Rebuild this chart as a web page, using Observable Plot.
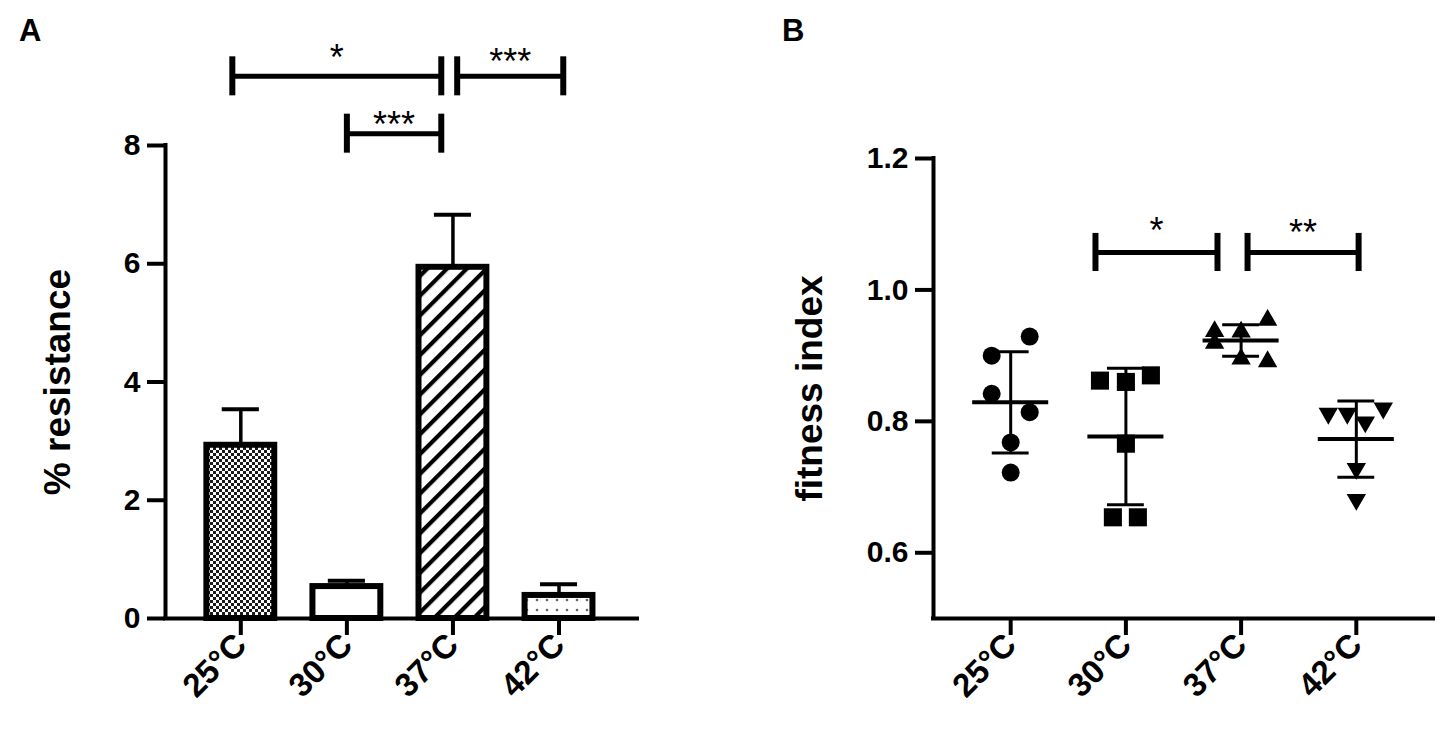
<!DOCTYPE html>
<html><head><meta charset="utf-8">
<script src="https://cdn.jsdelivr.net/npm/d3@7"></script>
<script src="https://cdn.jsdelivr.net/npm/@observablehq/plot@0.6"></script>
<style>
body{margin:0;background:#fff;}
#wrap{position:relative;width:1442px;height:733px;font-family:"Liberation Sans",Arial,sans-serif;overflow:hidden;}
.panel{position:absolute;top:0;}
.letter{position:absolute;font-weight:bold;font-size:31px;line-height:1;}
</style></head>
<body><div id="wrap">
<div class="letter" style="left:19px;top:15px">A</div>
<div class="letter" style="left:782px;top:15px">B</div>
<div id="pa" class="panel" style="left:0"></div>
<div id="pb" class="panel" style="left:700px"></div>
</div>
<script>
// ---------- data ----------
const categories = ["25°C", "30°C", "37°C", "42°C"];

// Panel A: % resistance (mean + SEM)
const resistanceMean = [2.93, 0.54, 5.94, 0.39];
const resistanceErr = [0.61, 0.10, 0.89, 0.19];
const resistanceTicks = [0, 2, 4, 6, 8];
// significance brackets (category-position units, value units)
const bracketFromA = [-0.08, 1.0, 2.04];
const bracketToA = [1.89, 1.89, 3.04];
const bracketYA = [9.17, 8.20, 9.17];
const bracketLabelYA = [9.61, 8.49, 9.54];
const bracketLabelA = ["*", "***", "***"];

// Panel B: fitness index (individual points, mean ± SD)
const fit25 = [0.900, 0.929, 0.842, 0.814, 0.768, 0.722];
const fit30 = [0.862, 0.860, 0.870, 0.766, 0.654, 0.654];
const fit37 = [0.937, 0.919, 0.936, 0.954, 0.895, 0.891];
const fit42 = [0.812, 0.812, 0.799, 0.820, 0.728, 0.681];
const jitter25 = [-0.165, 0.165, -0.165, 0.165, 0, 0];
const jitter30 = [-0.225, 0, 0.217, 0, -0.113, 0.104];
const jitter37 = [-0.23, -0.23, 0, 0.23, 0, 0.23];
const jitter42 = [-0.243, -0.078, 0.078, 0.234, 0, 0];
const fitMean = [0.829, 0.777, 0.923, 0.773];
const fitSD = [0.077, 0.104, 0.024, 0.058];
const fitTicks = [0.6, 0.8, 1.0, 1.2];
const bracketFromB = [0.736, 2.056];
const bracketToB = [1.795, 3.02];
const bracketYB = [1.057, 1.057];
const bracketLabelYB = [1.102, 1.099];
const bracketLabelB = ["*", "**"];

// ---------- styles ----------
const barPatterns = ["url(#checker)", "#ffffff", "url(#stripes)", "url(#dots)"];
const symbols = ["circle", "square", "triangle", "triangle"];
const symbolRotate = [0, 0, 0, 180];
const symbolR = [9, 10.2, 7.2, 7.2];
const font = "Liberation Sans, Arial, sans-serif";

// ---------- Panel A ----------
const barsA = categories.map((c, i) => ({i, c, m: resistanceMean[i], e: resistanceErr[i]}));
const bracketsA = bracketLabelA.map((label, k) => ({x1: bracketFromA[k], x2: bracketToA[k], y: bracketYA[k], ly: bracketLabelYA[k], label}));
const xDomA = [-0.71, 3.74];
const yDomA = [0, 8];

const plotA = Plot.plot({
  width: 700, height: 733,
  marginLeft: 165, marginRight: 63, marginTop: 145, marginBottom: 115,
  style: {fontFamily: font, fontWeight: "bold", fontSize: "30px", color: "black", background: "transparent", overflow: "visible"},
  x: {domain: xDomA, axis: null},
  y: {domain: yDomA, axis: null},
  color: {type: "identity"},
  marks: [
    Plot.axisY({ticks: resistanceTicks, tickFormat: d => String(d), tickSize: 18, tickPadding: 7, strokeWidth: 4, fontSize: 30, fontWeight: "bold", label: null}),
    Plot.axisX({ticks: [0, 1, 2, 3], tickFormat: i => categories[i], tickRotate: -45, tickSize: 17, tickPadding: 4, strokeWidth: 4, fontSize: 33, fontWeight: "bold", label: null}),
    Plot.text(["% resistance"], {text: d => d, frameAnchor: "left", textAnchor: "middle", rotate: -90, dx: -107, fontSize: 37, fontWeight: "bold"}),
    Plot.rectY(barsA, {x1: d => d.i - 0.32, x2: d => d.i + 0.32, y1: 0, y2: "m", fill: d => barPatterns[d.i], stroke: "black", strokeWidth: 6}),
    Plot.ruleX(barsA, {x: "i", y1: "m", y2: d => d.m + d.e, strokeWidth: 3.5}),
    Plot.ruleY(barsA, {y: d => d.m + d.e, x1: d => d.i - 0.175, x2: d => d.i + 0.175, strokeWidth: 4}),
    Plot.ruleX([xDomA[0]], {y1: yDomA[0], y2: yDomA[1], strokeWidth: 4, strokeLinecap: "square"}),
    Plot.ruleY([yDomA[0]], {strokeWidth: 4, strokeLinecap: "square"}),
    Plot.ruleY(bracketsA, {y: "y", x1: "x1", x2: "x2", strokeWidth: 5}),
    Plot.ruleX(bracketsA, {x: "x1", y1: d => d.y - 0.33, y2: d => d.y + 0.33, strokeWidth: 6}),
    Plot.ruleX(bracketsA, {x: "x2", y1: d => d.y - 0.33, y2: d => d.y + 0.33, strokeWidth: 6}),
    Plot.text(bracketsA, {x: d => (d.x1 + d.x2) / 2, y: "ly", text: "label", fontSize: 36, fontWeight: "normal", lineAnchor: "bottom", dy: 20})
  ]
});
d3.select(plotA).insert("defs", ":first-child").html(`
  <pattern id="checker" width="6" height="6" patternUnits="userSpaceOnUse">
    <rect width="6" height="6" fill="#fff"/>
    <rect width="3" height="3" fill="#1a1a1a"/>
    <rect x="3" y="3" width="3" height="3" fill="#1a1a1a"/>
  </pattern>
  <pattern id="stripes" width="14" height="14" patternUnits="userSpaceOnUse" patternTransform="rotate(45)">
    <rect width="14" height="14" fill="#fff"/>
    <rect width="4.2" height="14" fill="#000"/>
  </pattern>
  <pattern id="dots" width="10" height="10" x="2" y="5" patternUnits="userSpaceOnUse">
    <rect width="10" height="10" fill="#fff"/>
    <circle cx="5" cy="5" r="1.3" fill="#666"/>
  </pattern>`);
document.getElementById("pa").appendChild(plotA);

// ---------- Panel B ----------
const fitValues = [fit25, fit30, fit37, fit42];
const fitJitter = [jitter25, jitter30, jitter37, jitter42];
const pointsB = categories.map((c, i) => fitValues[i].map((v, k) => ({i, c, v, j: fitJitter[i][k]})));
const summaryB = categories.map((c, i) => ({i, c, m: fitMean[i], sd: fitSD[i]}));
const bracketsB = bracketLabelB.map((label, k) => ({x1: bracketFromB[k], x2: bracketToB[k], y: bracketYB[k], ly: bracketLabelYB[k], label}));
const xDomB = [-0.67, 3.67];
const yDomB = [0.5, 1.2];

const plotB = Plot.plot({
  width: 742, height: 733,
  marginLeft: 233, marginRight: 9, marginTop: 158, marginBottom: 115,
  style: {fontFamily: font, fontWeight: "bold", fontSize: "30px", color: "black", background: "transparent", overflow: "visible"},
  x: {domain: xDomB, axis: null},
  y: {domain: yDomB, axis: null},
  marks: [
    Plot.axisY({ticks: fitTicks, tickFormat: d => d.toFixed(1), tickSize: 18, tickPadding: 7, strokeWidth: 4, fontSize: 30, fontWeight: "bold", label: null}),
    Plot.axisX({ticks: [0, 1, 2, 3], tickFormat: i => categories[i], tickRotate: -45, tickSize: 17, tickPadding: 4, strokeWidth: 4, fontSize: 33, fontWeight: "bold", label: null}),
    Plot.text(["fitness index"], {text: d => d, frameAnchor: "left", textAnchor: "middle", rotate: -90, dx: -123, fontSize: 37, fontWeight: "bold"}),
    ...pointsB.map((pts, i) => Plot.dot(pts, {x: d => d.i + d.j, y: "v", symbol: symbols[i], rotate: symbolRotate[i], r: symbolR[i], fill: "black", stroke: "none"})),
    Plot.ruleY(summaryB, {y: "m", x1: d => d.i - 0.33, x2: d => d.i + 0.33, strokeWidth: 4}),
    Plot.ruleX(summaryB, {x: "i", y1: d => d.m - d.sd, y2: d => d.m + d.sd, strokeWidth: 3}),
    Plot.ruleY(summaryB, {y: d => d.m + d.sd, x1: d => d.i - 0.16, x2: d => d.i + 0.16, strokeWidth: 3}),
    Plot.ruleY(summaryB, {y: d => d.m - d.sd, x1: d => d.i - 0.16, x2: d => d.i + 0.16, strokeWidth: 3}),
    Plot.ruleX([xDomB[0]], {y1: yDomB[0], y2: yDomB[1], strokeWidth: 4, strokeLinecap: "square"}),
    Plot.ruleY([yDomB[0]], {strokeWidth: 4, strokeLinecap: "square"}),
    Plot.ruleY(bracketsB, {y: "y", x1: "x1", x2: "x2", strokeWidth: 5}),
    Plot.ruleX(bracketsB, {x: "x1", y1: d => d.y - 0.029, y2: d => d.y + 0.029, strokeWidth: 6}),
    Plot.ruleX(bracketsB, {x: "x2", y1: d => d.y - 0.029, y2: d => d.y + 0.029, strokeWidth: 6}),
    Plot.text(bracketsB, {x: d => (d.x1 + d.x2) / 2, y: "ly", text: "label", fontSize: 36, fontWeight: "normal", lineAnchor: "bottom", dy: 20})
  ]
});
document.getElementById("pb").appendChild(plotB);
</script>
</body></html>
